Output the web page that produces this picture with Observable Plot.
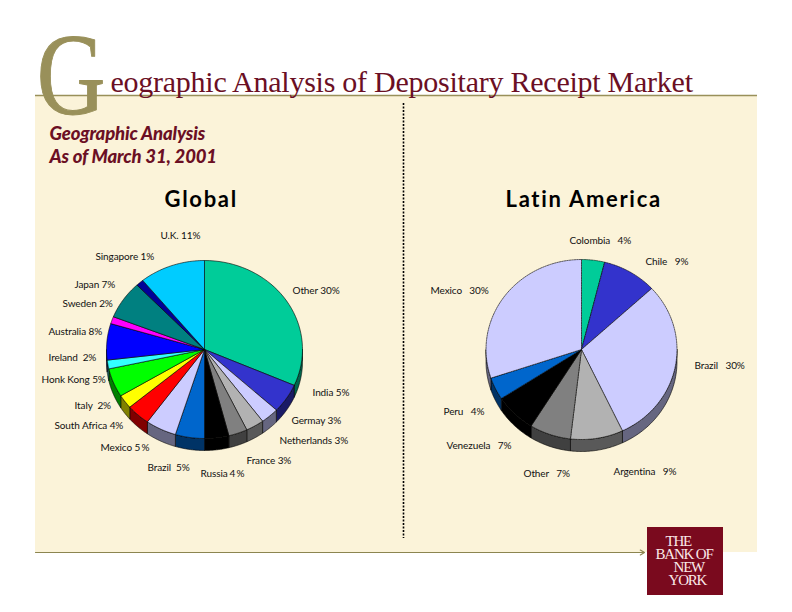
<!DOCTYPE html>
<html><head><meta charset="utf-8">
<script src="https://cdn.jsdelivr.net/npm/d3@7"></script>
<script src="https://cdn.jsdelivr.net/npm/@observablehq/plot@0.6"></script>
<style>
html,body{margin:0;padding:0;background:#fff}
svg{display:block}
.ttl text{letter-spacing:-.25px}
.biglet{transform-origin:36px 114px;transform:scaleX(.82)}
.sub text{letter-spacing:-.15px}
.head text{letter-spacing:1.7px}
.logo text{letter-spacing:-1.2px}
.lab text{letter-spacing:-.1px}
</style>
</head><body>
<script>
// ---- data ----
const globalNames = ["Other","India","Germany","Netherlands","France","Russia","Brazil","Mexico","South Africa","Italy","Hong Kong","Ireland","Australia","Sweden","Japan","Singapore","U.K."];
const globalShares = [31.6,5.3,3,3,3.1,4,4.8,5.1,3.9,2.5,5.2,1.6,6.6,1.3,6.9,1.25,10.85];
const globalColors = ["#00CC99","#3333CC","#CCCCFF","#B2B2B2","#808080","#000000","#0066CC","#CCCCFF","#FF0000","#FFFF00","#00FF00","#33FFFF","#0000FF","#FF00FF","#008080","#000099","#00CCFF"];
const latinNames = ["Colombia","Chile","Brazil","Argentina","Other","Venezuela","Peru","Mexico"];
const latinShares = [3.9,9.25,29.8,8.9,7,7,4,30.15];
const latinColors = ["#00CC99","#3333CC","#CCCCFF","#B2B2B2","#808080","#000000","#0066CC","#CCCCFF"];

const globalLabels = ["U.K. 11%","Singapore 1%","Japan 7%","Other 30%","Sweden 2%","Australia 8%","Ireland  2%","Honk Kong 5%","India 5%","Italy  2%","Germay 3%","South Africa 4%","Netherlands 3%","Mexico","5","%","France 3%","Brazil  5%","Russia ","4","%"];
const latinLabels = ["Colombia   4%","Chile   9%","Mexico   30%","Brazil   30%","Peru   4%","Venezuela   7%","Other   7%","Argentina   9%"];
const titleText = "eographic Analysis of Depositary Receipt Market";
const subtitleLines = ["Geographic Analysis","As of March 31, 2001"];
const headings = ["Global","Latin America"];
const logoLines = ["THE","BANK OF","NEW","YORK"];

// ---- layout (page units) ----
const globalPie = {cx:204,cy:349,rx:98,ry:89,depth:12};
const latinPie  = {cx:581,cy:349,rx:95.5,ry:90,depth:12};
const globalLabelX = [160,95,74,292,62,48,48,41,312,74,291,54,279,100,134,141,246,147,200,229,236];
const globalLabelY = [235,256,284,290,303,331,357,379,392,405,420,425,440,447,447,447,460,467,473,473,473];
const latinLabelX = [569,645,430,694,443,446,523,613];
const latinLabelY = [240,261,290,365,411,445,473,471];

const deg = Math.PI/180;
function slices(pie, names, shares, colors, prefix){
  const total = d3.sum(shares), tops=[], sides=[];
  let a = 0;
  names.forEach((name,i)=>{
    const a0=a, a1=a+shares[i]/total*360; a=a1;
    const key = prefix+"|"+name;
    const pt = t=>[pie.cx+pie.rx*Math.sin(t*deg), pie.cy-pie.ry*Math.cos(t*deg)];
    const arc = d3.range(0,41).map(k=>pt(a0+(a1-a0)*k/40));
    const ring = [[pie.cx,pie.cy],...arc,[pie.cx,pie.cy]];
    ring.forEach(([x,y])=>tops.push({key,x,y,fill:colors[i]}));
    const s0=Math.max(a0,90), s1=Math.min(a1,270);
    if(s1>s0){
      const c=d3.rgb(colors[i]);
      const dark=d3.rgb(c.r*.5,c.g*.5,c.b*.5).formatHex();
      const front=d3.range(0,41).map(k=>pt(s0+(s1-s0)*k/40));
      const poly=[...front,...front.slice().reverse().map(([x,y])=>[x,y+pie.depth]),front[0]];
      poly.forEach(([x,y])=>sides.push({key,x,y,fill:dark}));
    }
  });
  return {tops,sides};
}
const G = slices(globalPie,globalNames,globalShares,globalColors,"g");
const L = slices(latinPie,latinNames,latinShares,latinColors,"l");

const pieLine = (rows,dash)=>Plot.line(rows,{x:"x",y:"y",z:"key",fill:"fill",stroke:"#000",strokeWidth:.6,strokeDasharray:dash,strokeLinejoin:"round"});
const txt = (rows,o)=>Plot.text(rows,{x:"x",y:"y",text:"t",textAnchor:"start",lineAnchor:"middle",...o});
const zip = (ts,xs,ys)=>ts.map((t,i)=>({t,x:xs[i],y:ys[i]}));
const BOLD = new Set(["5","4"]);
const gl = zip(globalLabels,globalLabelX,globalLabelY);
const ll = zip(latinLabels.map(s=>s.replace(/ /g,"\u00a0")),latinLabelX,latinLabelY);
const dashX=[403], panel=[{}];

const chart = Plot.plot({
  width:792,height:612,margin:0,
  x:{type:"identity"},y:{type:"identity"},
  color:{type:"identity"},
  axis:null,
  style:{background:"#fff",overflow:"visible"},
  marks:[
    Plot.rect(panel,{x1:()=>35,x2:()=>757,y1:()=>95,y2:()=>552,fill:"#FBF3D9"}),
    Plot.ruleY([95],{x1:35,x2:757,stroke:"#99905A",strokeWidth:1.5}),
    Plot.ruleX(dashX,{y1:103,y2:538,stroke:"#000",strokeWidth:1.6,strokeDasharray:"2,1.5"}),
    Plot.arrow([{}],{x1:()=>35,y1:()=>552,x2:()=>644,y2:()=>552,stroke:"#8C8550",strokeWidth:1.2,headLength:6,bend:0}),
    txt([{t:"G",x:37,y:114}],{fontFamily:"Liberation Serif",fontSize:116,fill:"#99905A",stroke:"#99905A",strokeWidth:1,lineAnchor:"bottom",dy:24,className:"biglet"}),
    txt([{t:titleText,x:110,y:82}],{fontFamily:"Liberation Serif",fontSize:30,fill:"#6B0F24",className:"ttl"}),
    txt(zip(subtitleLines,[49,49],[134,157]),{fontFamily:"Lato",fontSize:18.5,fontStyle:"italic",fontWeight:900,fill:"#6B0F24",className:"sub"}),
    txt(zip(headings,[164,505],[199,199]),{fontFamily:"Lato",fontSize:22,fontWeight:700,fill:"#000",className:"head"}),
    pieLine(G.sides),pieLine(L.sides),
    pieLine(G.tops),pieLine(L.tops,"1.5,1"),
    txt(gl,{fontFamily:"Lato",fontSize:10,fill:"#111",fontWeight:d=>BOLD.has(d.t)?900:400,className:"lab"}),
    txt(ll,{fontFamily:"Lato",fontSize:10,fill:"#111",className:"lab"}),
    Plot.rect(panel,{x1:()=>647,x2:()=>723,y1:()=>527,y2:()=>595,fill:"#7A0A1E"}),
    txt(zip(logoLines,[665,655,673,668],[541,554,567,580]),{fontFamily:"Liberation Serif",fontSize:15,fill:"#FBE9E9",className:"logo"})
  ]
});
document.body.appendChild(chart);
</script>
</body></html>
